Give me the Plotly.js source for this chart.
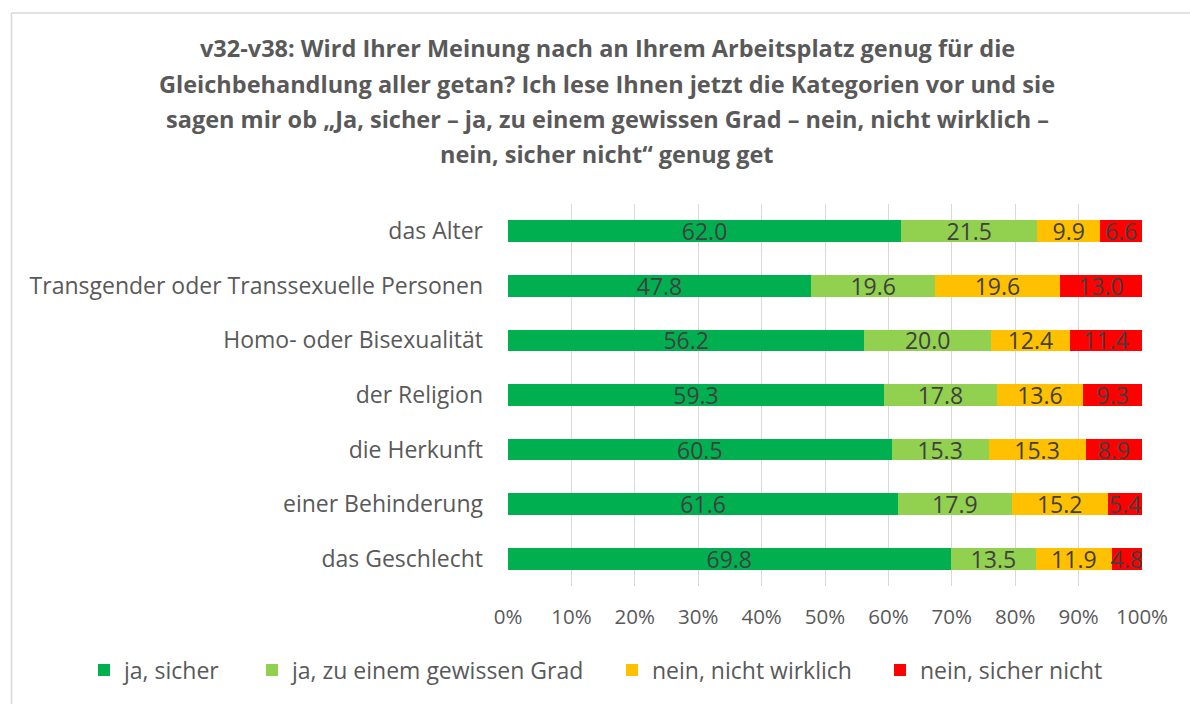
<!DOCTYPE html>
<html>
<head>
<meta charset="utf-8">
<script src="https://cdn.plot.ly/plotly-3.0.1.min.js"></script>
<style>html,body{margin:0;padding:0;background:#fff;}#chart{width:1190px;height:704px;}</style>
</head>
<body>
<div id="chart"></div>
<script>
const categories = [
  "das Alter",
  "Transgender oder Transsexuelle Personen",
  "Homo- oder Bisexualität",
  "der Religion",
  "die Herkunft",
  "einer Behinderung",
  "das Geschlecht"
];
const seriesNames = ["ja, sicher", "ja, zu einem gewissen Grad", "nein, nicht wirklich", "nein, sicher nicht"];
const jaSicher       = [62.0, 47.8, 56.2, 59.3, 60.5, 61.6, 69.8];
const jaGewisserGrad = [21.5, 19.6, 20.0, 17.8, 15.3, 17.9, 13.5];
const neinNicht      = [9.9, 19.6, 12.4, 13.6, 15.3, 15.2, 11.9];
const neinSicher     = [6.6, 13.0, 11.4, 9.3, 8.9, 5.4, 4.8];
const xTickVals = [0, 10, 20, 30, 40, 50, 60, 70, 80, 90, 100];
const xTickText = ["0%", "10%", "20%", "30%", "40%", "50%", "60%", "70%", "80%", "90%", "100%"];
const titleLines = [
  "v32-v38: Wird Ihrer Meinung nach an Ihrem Arbeitsplatz genug für die",
  "Gleichbehandlung aller getan? Ich lese Ihnen jetzt die Kategorien vor und sie",
  "sagen mir ob „Ja, sicher – ja, zu einem gewissen Grad – nein, nicht wirklich –",
  "nein, sicher nicht“ genug get"
];

const colors = ["#00B050", "#92D050", "#FFC000", "#FF0000"];
const allSeries = [jaSicher, jaGewisserGrad, neinNicht, neinSicher];
const FONT = "'Open Sans', 'Noto Sans', sans-serif";
const legendIds = ["legend", "legend2", "legend3", "legend4"];

const traces = allSeries.map((vals, i) => ({
  type: "bar",
  orientation: "h",
  name: seriesNames[i],
  legend: legendIds[i],
  y: categories,
  x: vals,
  text: vals.map(v => v.toFixed(1)),
  texttemplate: "%{text}",
  textposition: "inside",
  insidetextanchor: "middle",
  textangle: 0,
  constraintext: "none",
  cliponaxis: false,
  textfont: {family: FONT, size: 23, color: "#404040"},
  marker: {color: colors[i], line: {width: 0}},
  hoverinfo: "skip"
}));

// plot area in px: x 508..1142, y 204..586
const L = 508, R = 1142, T = 204, B = 586;
const px2x = p => (p - L) / (R - L);
const px2y = p => (B - p) / (B - T);
const titleY = [48, 84, 119, 154];

const annotations = titleLines.map((t, i) => ({
  text: "<b>" + t + "</b>",
  xref: "paper", yref: "paper",
  x: px2x(607), y: px2y(titleY[i]),
  xanchor: "center", yanchor: "middle",
  showarrow: false,
  font: {family: FONT, size: 23.5, color: "#595959"}
}));

const legendTextStart = [124, 292, 652, 920];
const legendFont = {family: FONT, size: 23, color: "#595959"};

const layout = {
  width: 1190, height: 704,
  margin: {l: L, r: 1190 - R, t: T, b: 704 - B, pad: 0},
  paper_bgcolor: "#ffffff",
  plot_bgcolor: "#ffffff",
  barmode: "stack",
  barnorm: "percent",
  bargap: 0.6,
  showlegend: true,
  xaxis: {
    range: [0, 100],
    tickvals: xTickVals,
    ticktext: xTickText,
    showgrid: true,
    gridcolor: "#d9d9d9",
    gridwidth: 1,
    zeroline: false,
    showline: false,
    ticks: "",
    ticklabelstandoff: 16,
    tickfont: {family: FONT, size: 20.5, color: "#595959"},
    fixedrange: true
  },
  yaxis: {
    type: "category",
    autorange: "reversed",
    showgrid: false,
    zeroline: false,
    showline: false,
    ticks: "",
    ticklabelstandoff: 24,
    tickfont: {family: FONT, size: 23, color: "#595959"},
    fixedrange: true
  },
  annotations: annotations,
  shapes: [
    {type: "line", xref: "paper", yref: "paper", x0: px2x(11.5), x1: px2x(1200), y0: px2y(13), y1: px2y(13), line: {color: "#d9d9d9", width: 1.5}},
    {type: "line", xref: "paper", yref: "paper", x0: px2x(11.5), x1: px2x(11.5), y0: px2y(13), y1: px2y(720), line: {color: "#d9d9d9", width: 1.5}}
  ]
};
legendIds.forEach((id, i) => {
  layout[id] = {
    orientation: "h",
    x: px2x(legendTextStart[i] - 40), xanchor: "left",
    y: px2y(670), yanchor: "middle",
    font: legendFont,
    bgcolor: "rgba(0,0,0,0)",
    borderwidth: 0,
    itemclick: false
  };
});

Plotly.newPlot("chart", traces, layout, {displayModeBar: false, staticPlot: true});
</script>
</body>
</html>
